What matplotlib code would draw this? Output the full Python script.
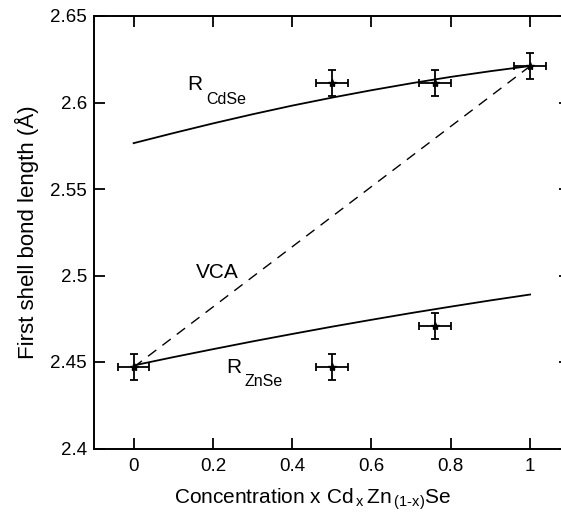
import numpy as np
import matplotlib
matplotlib.use('Agg')
from matplotlib import pyplot as plt

plt.rcParams['font.family'] = ['Liberation Sans', 'DejaVu Sans']
plt.rcParams['mathtext.fontset'] = 'custom'
plt.rcParams['mathtext.rm'] = 'Liberation Sans'
plt.rcParams['mathtext.it'] = 'Liberation Sans:italic'

# measured first shell bond lengths
x_cd = [0.5, 0.76, 1.0]
r_cd = [2.611, 2.611, 2.621]
x_zn = [0.0, 0.5, 0.76]
r_zn = [2.447, 2.447, 2.471]
x_err = 0.04
r_err = 0.0075

# calculated curves
x_calc = [0.0, 0.1, 0.2, 0.3, 0.4, 0.5, 0.6, 0.7, 0.8, 0.9, 1.0]
r_cd_calc = [2.5765, 2.5823, 2.5879, 2.5932, 2.5982, 2.6028, 2.6071, 2.6111, 2.6148, 2.6181, 2.6211]
r_zn_calc = [2.448, 2.4528, 2.4574, 2.4619, 2.4662, 2.4704, 2.4744, 2.4783, 2.482, 2.4856, 2.489]

# virtual crystal approximation (Vegard)
x_vca = [0.0, 1.0]
r_vca = [2.447, 2.621]

xticks = [0, 0.2, 0.4, 0.6, 0.8, 1]
yticks = [2.4, 2.45, 2.5, 2.55, 2.6, 2.65]

fig = plt.figure(figsize=(5.61, 5.14), dpi=100)
ax = fig.add_axes([94/561, 65.5/514, 475.7/561, 432.5/514])

ax.plot(x_calc, r_cd_calc, color='k', lw=1.3)
ax.plot(x_calc, r_zn_calc, color='k', lw=1.3)
ax.plot(x_vca, r_vca, color='k', lw=1.0, linestyle=(0, (7.5, 5.5)))

for xs, ys in [(x_cd, r_cd), (x_zn, r_zn)]:
    ax.errorbar(xs, ys, xerr=x_err, yerr=r_err, fmt='*', color='k', ms=6,
                elinewidth=1.3, capsize=2.8, capthick=1.3)

ax.text(0.154, 2.6102, 'R', fontsize=15, ha='center', va='center')
ax.text(0.183, 2.6019, 'CdSe', fontsize=11.5, ha='left', va='center')
ax.text(0.253, 2.447, 'R', fontsize=15, ha='center', va='center')
ax.text(0.279, 2.4388, 'ZnSe', fontsize=11.5, ha='left', va='center')
ax.text(0.21, 2.502, 'VCA', fontsize=15, ha='center', va='center')

ax.set_xlim(-0.1, 1.1)
ax.set_ylim(2.4, 2.65)
ax.set_xticks(xticks)
ax.set_xticklabels(['0', '0.2', '0.4', '0.6', '0.8', '1'])
ax.set_yticks(yticks)
ax.set_yticklabels(['2.4', '2.45', '2.5', '2.55', '2.6', '2.65'])
ax.tick_params(direction='in', top=True, right=True, length=8, width=1.3,
               labelsize=13.5)
ax.tick_params(axis='y', pad=5)
ax.tick_params(axis='x', pad=6.5)
for s in ax.spines.values():
    s.set_linewidth(1.4)

ax.set_xlabel(r'Concentration x Cd$\,_{\rm x}\,$Zn$\,_{\rm (1\text{-}x)}$Se', fontsize=15)
ax.set_ylabel('First shell bond length (Å)', fontsize=16)
ax.xaxis.set_label_coords(0.459, -0.088)
ax.yaxis.set_label_coords(-0.116, 0.5)

fig.savefig('out.png', dpi=100)
